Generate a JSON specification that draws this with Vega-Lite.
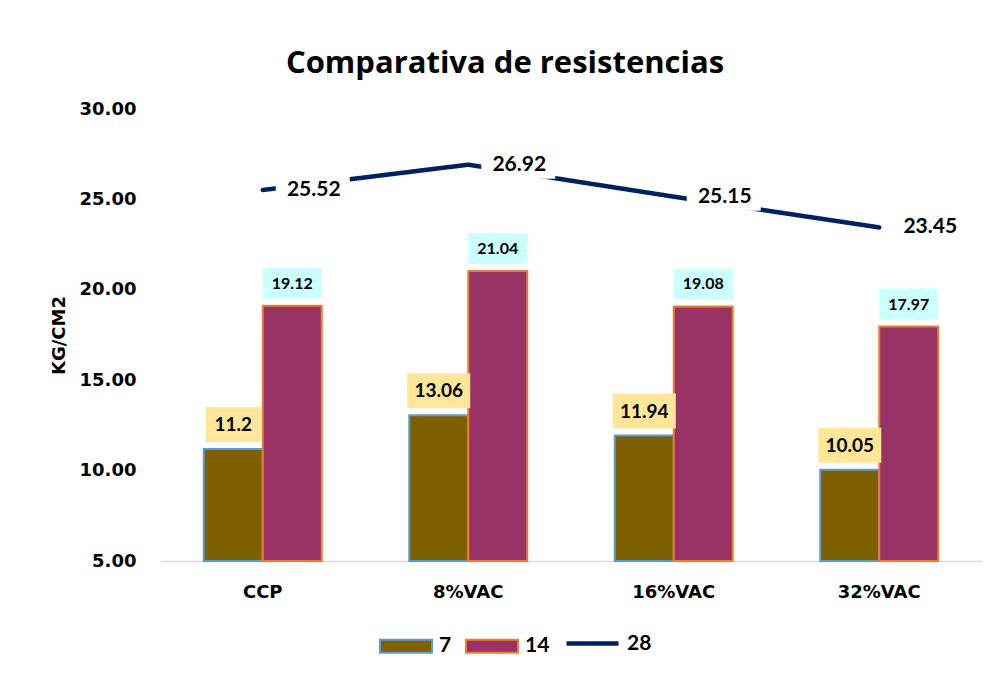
{
  "$schema": "https://vega.github.io/schema/vega-lite/v6.json",
  "autosize": "none",
  "width": 822,
  "height": 452,
  "padding": {"left": 160, "top": 109, "right": 15, "bottom": 116},
  "background": "white",
  "config": {"view": {"stroke": null}},
  "title": {
    "text": "Comparativa de resistencias",
    "font": "Open Sans",
    "fontSize": 31,
    "fontWeight": "bold",
    "color": "#000000",
    "anchor": "middle",
    "dx": -66,
    "offset": 20
  },
  "data": {
    "values": [
      {"cat": "CCP", "series": "7", "value": 11.2},
      {"cat": "CCP", "series": "14", "value": 19.12},
      {"cat": "CCP", "series": "28", "value": 25.52},
      {"cat": "8%VAC", "series": "7", "value": 13.06},
      {"cat": "8%VAC", "series": "14", "value": 21.04},
      {"cat": "8%VAC", "series": "28", "value": 26.92},
      {"cat": "16%VAC", "series": "7", "value": 11.94},
      {"cat": "16%VAC", "series": "14", "value": 19.08},
      {"cat": "16%VAC", "series": "28", "value": 25.15},
      {"cat": "32%VAC", "series": "7", "value": 10.05},
      {"cat": "32%VAC", "series": "14", "value": 17.97},
      {"cat": "32%VAC", "series": "28", "value": 23.45}
    ]
  },
  "encoding": {
    "x": {
      "field": "cat",
      "type": "nominal",
      "sort": ["CCP", "8%VAC", "16%VAC", "32%VAC"],
      "scale": {"paddingInner": 0.426, "paddingOuter": 0.213},
      "axis": {
        "title": null,
        "labelAngle": 0,
        "ticks": false,
        "domainColor": "#D9D9D9",
        "domainWidth": 1.5,
        "labelFont": "DejaVu Sans",
        "labelFontSize": 18,
        "labelFontWeight": "bold",
        "labelColor": "#000000",
        "labelPadding": 22
      }
    },
    "y": {
      "field": "value",
      "type": "quantitative",
      "scale": {"domain": [5, 30], "zero": false, "nice": false},
      "axis": {
        "title": "KG/CM2",
        "titleFont": "DejaVu Sans",
        "titleFontSize": 18,
        "titleFontWeight": "bold",
        "titleColor": "#000000",
        "titlePadding": 11,
        "values": [5, 10, 15, 20, 25, 30],
        "format": ".2f",
        "grid": false,
        "domain": false,
        "ticks": false,
        "labelFont": "DejaVu Sans",
        "labelFontSize": 18,
        "labelFontWeight": "bold",
        "labelColor": "#000000",
        "labelPadding": 24
      }
    }
  },
  "layer": [
    {
      "transform": [{"filter": "datum.series !== '28'"}],
      "mark": {"type": "bar", "strokeWidth": 2},
      "encoding": {
        "xOffset": {"field": "series", "type": "nominal", "scale": {"domain": ["7", "14"], "paddingInner": 0, "paddingOuter": 0}},
        "y2": {"datum": 5},
        "color": {
          "field": "series",
          "type": "nominal",
          "scale": {"domain": ["7", "14"], "range": ["#7F6000", "#993366"]},
          "legend": {
            "orient": "none",
            "legendX": 219,
            "legendY": 510,
            "direction": "horizontal",
            "title": null,
            "labelFont": "Lato",
            "labelFontSize": 21,
            "labelFontWeight": "bold",
            "labelColor": "#000000",
            "symbolType": "M-1,-0.25H1V0.25H-1Z",
            "symbolSize": 2704,
            "symbolStrokeWidth": 2,
            "symbolOpacity": 1,
            "labelOffset": 6,
            "columnPadding": 10
          }
        },
        "stroke": {
          "field": "series",
          "type": "nominal",
          "scale": {"domain": ["7", "14"], "range": ["#5B9BD5", "#ED7D31"]},
          "legend": {
            "orient": "none",
            "legendX": 219,
            "legendY": 510,
            "direction": "horizontal",
            "title": null,
            "labelFont": "Lato",
            "labelFontSize": 21,
            "labelFontWeight": "bold",
            "labelColor": "#000000",
            "symbolType": "M-1,-0.25H1V0.25H-1Z",
            "symbolSize": 2704,
            "symbolStrokeWidth": 2,
            "symbolOpacity": 1,
            "labelOffset": 6,
            "columnPadding": 10
          }
        }
      }
    },
    {
      "transform": [{"filter": "datum.series !== '28'"}],
      "mark": {"type": "point", "filled": true, "opacity": 1, "strokeWidth": 0, "size": 3969},
      "encoding": {
        "xOffset": {"field": "series", "type": "nominal", "scale": {"domain": ["7", "14"], "paddingInner": 0, "paddingOuter": 0}},
        "shape": {
          "condition": [
            {"test": "datum.series === '14'", "value": "M-0.937,-1.206H0.937V-0.222H-0.937Z"},
            {"test": "datum.value === 11.2", "value": "M-0.873,-1.333H0.873V-0.222H-0.873Z"}
          ],
          "value": "M-1,-1.333H1V-0.222H-1Z"
        },
        "fill": {"condition": {"test": "datum.series === '7'", "value": "#FFE699"}, "value": "#CCFFFF"}
      }
    },
    {
      "transform": [{"filter": "datum.series === '7'"}],
      "mark": {"type": "text", "font": "Lato", "fontSize": 19, "fontWeight": "bold", "color": "#000000", "baseline": "middle", "dy": -24},
      "encoding": {
        "xOffset": {"field": "series", "type": "nominal", "scale": {"domain": ["7", "14"], "paddingInner": 0, "paddingOuter": 0}},
        "text": {"field": "value", "type": "quantitative"}
      }
    },
    {
      "transform": [{"filter": "datum.series === '14'"}],
      "mark": {"type": "text", "font": "Lato", "fontSize": 16, "fontWeight": "bold", "color": "#000000", "baseline": "middle", "dy": -22},
      "encoding": {
        "xOffset": {"field": "series", "type": "nominal", "scale": {"domain": ["7", "14"], "paddingInner": 0, "paddingOuter": 0}},
        "text": {"field": "value", "type": "quantitative", "format": ".2f"}
      }
    },
    {
      "transform": [{"filter": "datum.series === '28'"}],
      "mark": {"type": "line", "color": "#002060", "strokeWidth": 4.5, "strokeCap": "round"},
      "encoding": {
        "strokeDash": {
          "field": "series",
          "type": "nominal",
          "scale": {"domain": ["28"], "range": [[1, 0]]},
          "legend": {
            "orient": "none",
            "legendX": 404,
            "legendY": 506,
            "direction": "horizontal",
            "title": null,
            "labelFont": "Lato",
            "labelFontSize": 21,
            "labelFontWeight": "bold",
            "labelColor": "#000000",
            "symbolType": "stroke",
            "symbolSize": 2704,
            "symbolStrokeWidth": 4.5,
            "symbolStrokeColor": "#002060",
            "symbolOpacity": 1,
            "labelOffset": 6
          }
        }
      }
    },
    {
      "transform": [{"filter": "datum.series === '28'"}],
      "mark": {"type": "point", "filled": true, "opacity": 1, "strokeWidth": 0, "size": 400, "color": "white", "shape": "M1.3,-1.4H8.7V1.4H1.3Z"},
      "encoding": {}
    },
    {
      "transform": [{"filter": "datum.series === '28'"}],
      "mark": {"type": "text", "font": "Lato", "fontSize": 21, "fontWeight": "bold", "color": "#000000", "baseline": "middle", "align": "center", "dx": 51},
      "encoding": {
        "text": {"field": "value", "type": "quantitative", "format": ".2f"}
      }
    }
  ]
}
